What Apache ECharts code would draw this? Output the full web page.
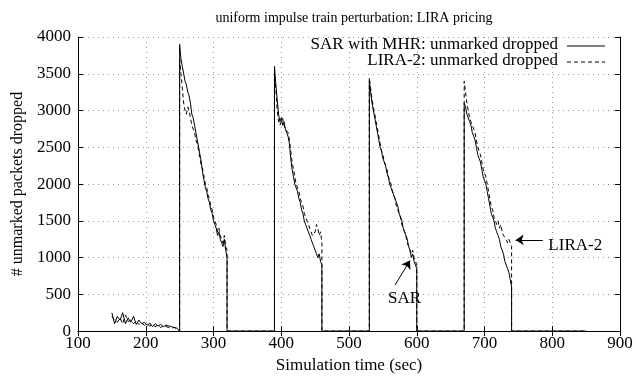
<!DOCTYPE html>
<html>
<head>
<meta charset="utf-8">
<script src="https://cdn.jsdelivr.net/npm/echarts@6/dist/echarts.min.js"></script>
<style>
  html, body { margin: 0; padding: 0; background: #fff; }
  #chart { width: 636px; height: 379px; }
</style>
</head>
<body>
<div id="chart"></div>
<script>
// data
const noiseStart = 150, noiseStep = 4;
const sarNoise  = [250, 100, 200, 150, 250, 100, 180, 120, 200, 90, 150, 100, 120, 80, 110, 60, 100, 70, 90, 60, 80, 70, 60, 50, 40];
const liraNoise = [200, 150, 120, 180, 100, 220, 130, 150, 100, 140, 90, 110, 80, 100, 70, 90, 60, 80, 50, 70, 60, 50, 40, 50, 30];

const pulseStarts = [250, 390, 530, 670];
const pulseEnds   = [320, 460, 600, 740];
const pulseStep = 2;
const endTime = 850;

const sarPulses = [
  [3900, 3700, 3600, 3500, 3400, 3350, 3250, 3200, 3100, 2950, 2900, 2800, 2700, 2600, 2500, 2400, 2300, 2150, 2050, 1950, 1900, 1800, 1750, 1650, 1600, 1500, 1450, 1400, 1300, 1350, 1250, 1200, 1150, 1250, 1100, 1000],
  [3600, 3350, 3150, 2950, 2850, 2900, 2800, 2850, 2750, 2700, 2650, 2550, 2350, 2200, 2100, 2000, 1950, 1900, 1800, 1750, 1650, 1600, 1500, 1450, 1400, 1350, 1300, 1250, 1200, 1150, 1100, 1050, 1000, 1050, 950, 900],
  [3400, 3250, 3100, 3000, 2900, 2800, 2700, 2600, 2500, 2450, 2350, 2300, 2250, 2150, 2100, 2000, 1950, 1900, 1850, 1800, 1750, 1700, 1600, 1550, 1500, 1400, 1350, 1300, 1250, 1150, 1100, 1000, 1050, 950, 900, 850],
  [3100, 3050, 2950, 2900, 2850, 2800, 2700, 2650, 2600, 2500, 2400, 2350, 2300, 2200, 2100, 2050, 2000, 1900, 1800, 1700, 1600, 1550, 1500, 1400, 1350, 1300, 1250, 1150, 1100, 1050, 950, 950, 850, 800, 700, 600]
];
const liraPulses = [
  [3700, 3500, 3300, 3100, 3000, 2950, 3050, 3000, 2900, 2800, 2750, 2700, 2600, 2550, 2450, 2350, 2250, 2200, 2100, 2000, 1950, 1850, 1800, 1700, 1650, 1550, 1500, 1450, 1350, 1400, 1300, 1250, 1200, 1300, 1150, 1100],
  [3500, 3300, 3000, 2850, 2800, 2850, 2900, 2800, 2750, 2750, 2700, 2600, 2450, 2300, 2200, 2100, 2000, 1950, 1900, 1800, 1750, 1700, 1600, 1550, 1500, 1450, 1400, 1350, 1300, 1300, 1350, 1450, 1400, 1300, 1350, 1200],
  [3450, 3300, 3150, 3050, 2950, 2850, 2750, 2650, 2550, 2450, 2400, 2300, 2250, 2200, 2100, 2050, 2000, 1900, 1850, 1800, 1700, 1650, 1600, 1550, 1450, 1400, 1350, 1300, 1200, 1150, 1100, 1050, 1100, 1000, 950, 900],
  [3400, 3250, 3100, 3000, 2900, 2850, 2800, 2750, 2700, 2600, 2500, 2450, 2400, 2300, 2200, 2150, 2100, 2000, 1900, 1800, 1700, 1650, 1550, 1500, 1450, 1500, 1400, 1450, 1350, 1300, 1300, 1250, 1200, 1250, 1200, 1150]
];

const xTicks = [100, 900, 100];   // min, max, interval
const yTicks = [0, 4000, 500];

function build(noise, pulses) {
  let pts = [];
  noise.forEach((v, i) => pts.push([noiseStart + i * noiseStep, v]));
  pulses.forEach((vals, k) => {
    pts.push([pulseStarts[k], 0]);
    vals.forEach((v, i) => pts.push([pulseStarts[k] + i * pulseStep, v]));
    pts.push([pulseEnds[k], 0]);
  });
  pts.push([endTime, 0]);
  return pts;
}

const SERIF = '"Liberation Serif", "DejaVu Serif", serif';
const sarName = 'SAR with MHR: unmarked dropped';
const liraName = 'LIRA-2: unmarked dropped';

let chart = echarts.init(document.getElementById('chart'));

const axisCommon = {
  axisLine: { show: true, lineStyle: { color: '#000', width: 1 } },
  axisTick: { show: true, inside: true, length: 5, lineStyle: { color: '#000' } },
};

// legend drawn by hand, gnuplot style: text right-aligned, line sample after it
function legendRow(name, y, dash) {
  return [
    { type: 'text', right: 78, top: y - 9,
      style: { text: name, fontFamily: SERIF, fontSize: 17, fill: '#000', textAlign: 'right' } },
    { type: 'line', shape: { x1: 567, y1: y + 1, x2: 605, y2: y + 1 },
      style: { stroke: '#000', lineWidth: 1, lineDash: dash } }
  ];
}

let option = {
  animation: false,
  backgroundColor: '#fff',
  title: {
    text: 'uniform impulse train perturbation: LIRA pricing',
    left: 349, top: 6, textAlign: 'center',
    textStyle: { fontFamily: SERIF, fontSize: 14, fontWeight: 'normal', color: '#000' }
  },
  grid: { left: 78, right: 16, top: 37, bottom: 42 },
  graphic: [].concat(legendRow(sarName, 45, null), legendRow(liraName, 61, [4, 3])),
  xAxis: [
    Object.assign({
      type: 'value', min: xTicks[0], max: xTicks[1], interval: xTicks[2],
      name: 'Simulation time (sec)', nameLocation: 'middle', nameGap: 22,
      nameTextStyle: { fontFamily: SERIF, fontSize: 17, color: '#000' },
      axisLabel: { fontFamily: SERIF, fontSize: 17, color: '#000', margin: 4, formatter: v => String(v) },
      splitLine: { show: true, lineStyle: { color: '#999', type: [1, 4], width: 1 } }
    }, axisCommon),
    Object.assign({
      type: 'value', position: 'top', min: xTicks[0], max: xTicks[1], interval: xTicks[2],
      axisLabel: { show: false }, splitLine: { show: false }
    }, axisCommon)
  ],
  yAxis: [
    Object.assign({
      type: 'value', min: yTicks[0], max: yTicks[1], interval: yTicks[2],
      name: '# unmarked packets dropped', nameLocation: 'middle', nameGap: 50, nameRotate: 90,
      nameTextStyle: { fontFamily: SERIF, fontSize: 16, color: '#000' },
      axisLabel: { fontFamily: SERIF, fontSize: 17, color: '#000', margin: 7, formatter: v => String(v) },
      splitLine: { show: true, lineStyle: { color: '#999', type: [1, 4], width: 1 } }
    }, axisCommon),
    Object.assign({
      type: 'value', position: 'right', min: yTicks[0], max: yTicks[1], interval: yTicks[2],
      axisLabel: { show: false }, splitLine: { show: false }
    }, axisCommon)
  ],
  series: [
    {
      name: sarName, type: 'line', symbol: 'none', xAxisIndex: 0, yAxisIndex: 0,
      data: build(sarNoise, sarPulses),
      lineStyle: { color: '#000', width: 1 },
      itemStyle: { color: '#000' },
      markLine: {
        silent: true, symbol: ['none', 'arrow'], symbolSize: 8,
        label: { show: false },
        lineStyle: { color: '#000', width: 1, type: 'solid' },
        data: [
          [{ coord: [568, 627] }, { coord: [590, 960] }],
          [{ coord: [786, 1240] }, { coord: [746, 1240] }]
        ]
      },
      markPoint: {
        silent: true, symbol: 'rect', symbolSize: 0,
        label: { show: true, position: 'inside', fontFamily: SERIF, fontSize: 17, color: '#000' },
        data: [
          { coord: [582, 440], value: 'SAR', label: { formatter: 'SAR' } },
          { coord: [834, 1170], value: 'LIRA-2', label: { formatter: 'LIRA-2' } }
        ]
      }
    },
    {
      name: liraName, type: 'line', symbol: 'none', xAxisIndex: 0, yAxisIndex: 0,
      data: build(liraNoise, liraPulses),
      lineStyle: { color: '#000', width: 1, type: [4, 3] },
      itemStyle: { color: '#000' }
    }
  ]
};

chart.setOption(option);
</script>
</body>
</html>
